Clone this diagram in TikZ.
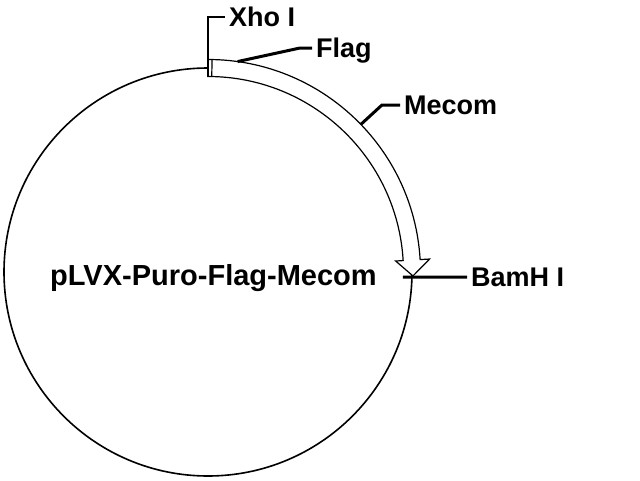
\documentclass[tikz,border=0pt]{standalone}
\usepackage{fontspec}
\setmainfont{Liberation Sans}
\begin{document}
\begin{tikzpicture}[
        x=1pt, y=1pt, % 1pt = 1px of the map
        plasmid/.style={draw, line width=1.6pt},
        band/.style={draw, fill=white, line width=1.2pt, line join=miter},
        lead/.style={draw, line width=3pt},
        tag/.style={anchor=west, inner sep=4pt, text height=19.3pt, text depth=0pt,
            font=\fontsize{27}{29}\selectfont\bfseries},
        title/.style={anchor=base west, inner sep=0pt,
            font=\fontsize{29}{31}\selectfont\bfseries},
    ]
    \useasboundingbox (-208,-208) rectangle (432,272);

    % vector backbone
    \draw[plasmid] (0,0) circle[radius=204];
    \node[title] (vec) at (-158,-13) {pLVX-Puro-Flag-Mecom};

    % insert Flag-Mecom
    \draw[band] (90:212.5) arc[start angle=90, end angle=3.35, radius=212.5]
        -- (3.35:222) -- (-1.1:205) -- (3.35:188) -- (3.35:195.5)
        arc[start angle=3.35, end angle=90, radius=195.5] -- cycle;
    \draw[line width=1.2pt] (88.9:195.5) -- (88.9:212.5);

    % sites and labels
    \coordinate (xhoPt) at (0,195.5);
    \coordinate (flagPt) at (82:212.5);
    \coordinate (mecomPt) at (44:212.5);
    \coordinate (bamPt) at (-1.5:195);

    \node[tag] (xho) at (17,255) {Xho I};
    \node[tag] (flag) at (104,224) {Flag};
    \node[tag] (mecom) at (192,167) {Mecom};
    \node[tag] (bam) at (259,-5) {BamH I};

    \draw[lead, line width=2.2pt] (xhoPt) |- (xho.west);
    \draw[lead] (flagPt) -- ([xshift=-12pt]flag.west) -- (flag.west);
    \draw[lead] (mecomPt) -- ([xshift=-18pt]mecom.west) -- (mecom.west);
    \draw[lead] (bamPt) -- (bam.west);
\end{tikzpicture}
\end{document}
